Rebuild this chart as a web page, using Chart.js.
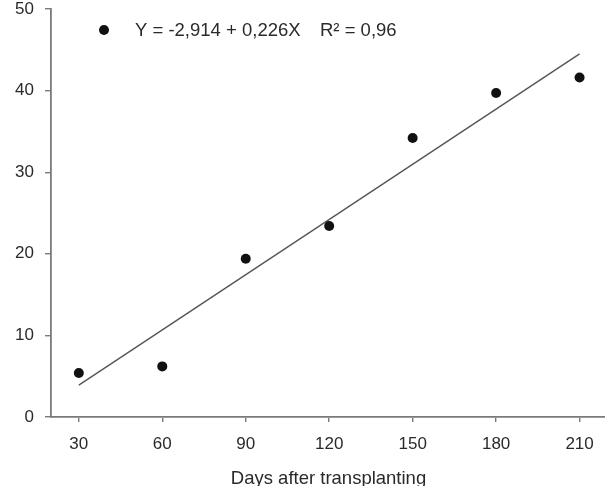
<!DOCTYPE html>
<html>
<head>
<meta charset="utf-8">
<script src="https://cdn.jsdelivr.net/npm/chart.js@4"></script>
<style>
  html, body { margin: 0; padding: 0; background: #fff; overflow: hidden; }
  canvas { display: block; }
</style>
</head>
<body>
<canvas id="chart" width="611" height="486"></canvas>
<script>
const days = [30, 60, 90, 120, 150, 180, 210];
const values = [5.4, 6.2, 19.4, 23.4, 34.2, 39.7, 41.6];
// fitted line, ends as drawn
const fitDays = [30, 210];
const fitValues = [3.9, 44.5];
const xTicks = [30, 60, 90, 120, 150, 180, 210];
const yTicks = [0, 10, 20, 30, 40, 50];
const legendEquation = 'Y = -2,914 + 0,226X';
const legendR2 = 'R² = 0,96';
const xTitle = 'Days after transplanting';

const FONT = "'Liberation Sans', Arial, sans-serif";
const TEXT = '#2a2a2a';
const AXIS = '#7a7a7a';

// legend sits inside the plot, top left
const inlineLegend = {
  id: 'inlineLegend',
  afterDraw(chart) {
    const { ctx } = chart;
    ctx.save();
    ctx.fillStyle = '#111';
    ctx.beginPath();
    ctx.arc(104, 30, 5, 0, Math.PI * 2);
    ctx.fill();
    ctx.fillStyle = TEXT;
    ctx.font = `18.5px ${FONT}`;
    ctx.textBaseline = 'middle';
    ctx.fillText(legendEquation, 135, 31);
    ctx.fillText(legendR2, 320, 31);
    ctx.restore();
  },
};

const ctx = document.getElementById('chart').getContext('2d');
new Chart(ctx, {
  type: 'scatter',
  data: {
    datasets: [
      {
        data: days.map((d, i) => ({ x: d, y: values[i] })),
        pointRadius: 5,
        pointBackgroundColor: '#111',
        pointBorderWidth: 0,
        showLine: false,
      },
      {
        type: 'line',
        data: fitDays.map((d, i) => ({ x: d, y: fitValues[i] })),
        borderColor: '#555',
        borderWidth: 1.4,
        pointRadius: 0,
        fill: false,
      },
    ],
  },
  options: {
    responsive: false,
    animation: false,
    events: [],
    layout: { padding: 0 },
    plugins: { legend: { display: false }, tooltip: { enabled: false } },
    scales: {
      x: {
        type: 'linear',
        min: 20,
        max: 219.5,
        afterBuildTicks: (s) => { s.ticks = xTicks.map((v) => ({ value: v })); },
        afterFit: (s) => { s.height = 69; s.paddingRight = 0; s.paddingLeft = 0; },
        border: { display: true, color: AXIS, width: 1.8 },
        grid: { drawOnChartArea: false, drawTicks: true, tickLength: 5, color: AXIS, lineWidth: 1.4 },
        ticks: { color: TEXT, padding: 12, maxRotation: 0, font: { family: FONT, size: 17 } },
        title: {
          display: true,
          text: xTitle,
          color: TEXT,
          font: { family: FONT, size: 18.5 },
          padding: { top: 0, bottom: -4 },
        },
      },
      y: {
        min: 0,
        max: 50,
        afterBuildTicks: (s) => { s.ticks = yTicks.map((v) => ({ value: v })); },
        afterFit: (s) => { s.width = 51; s.paddingTop = 9; s.paddingBottom = 0; },
        border: { display: true, color: AXIS, width: 1.8 },
        grid: { drawOnChartArea: false, drawTicks: true, tickLength: 6, color: AXIS, lineWidth: 1.4 },
        ticks: { color: TEXT, padding: 11, font: { family: FONT, size: 17 } },
      },
    },
  },
  plugins: [inlineLegend],
});
</script>
</body>
</html>
